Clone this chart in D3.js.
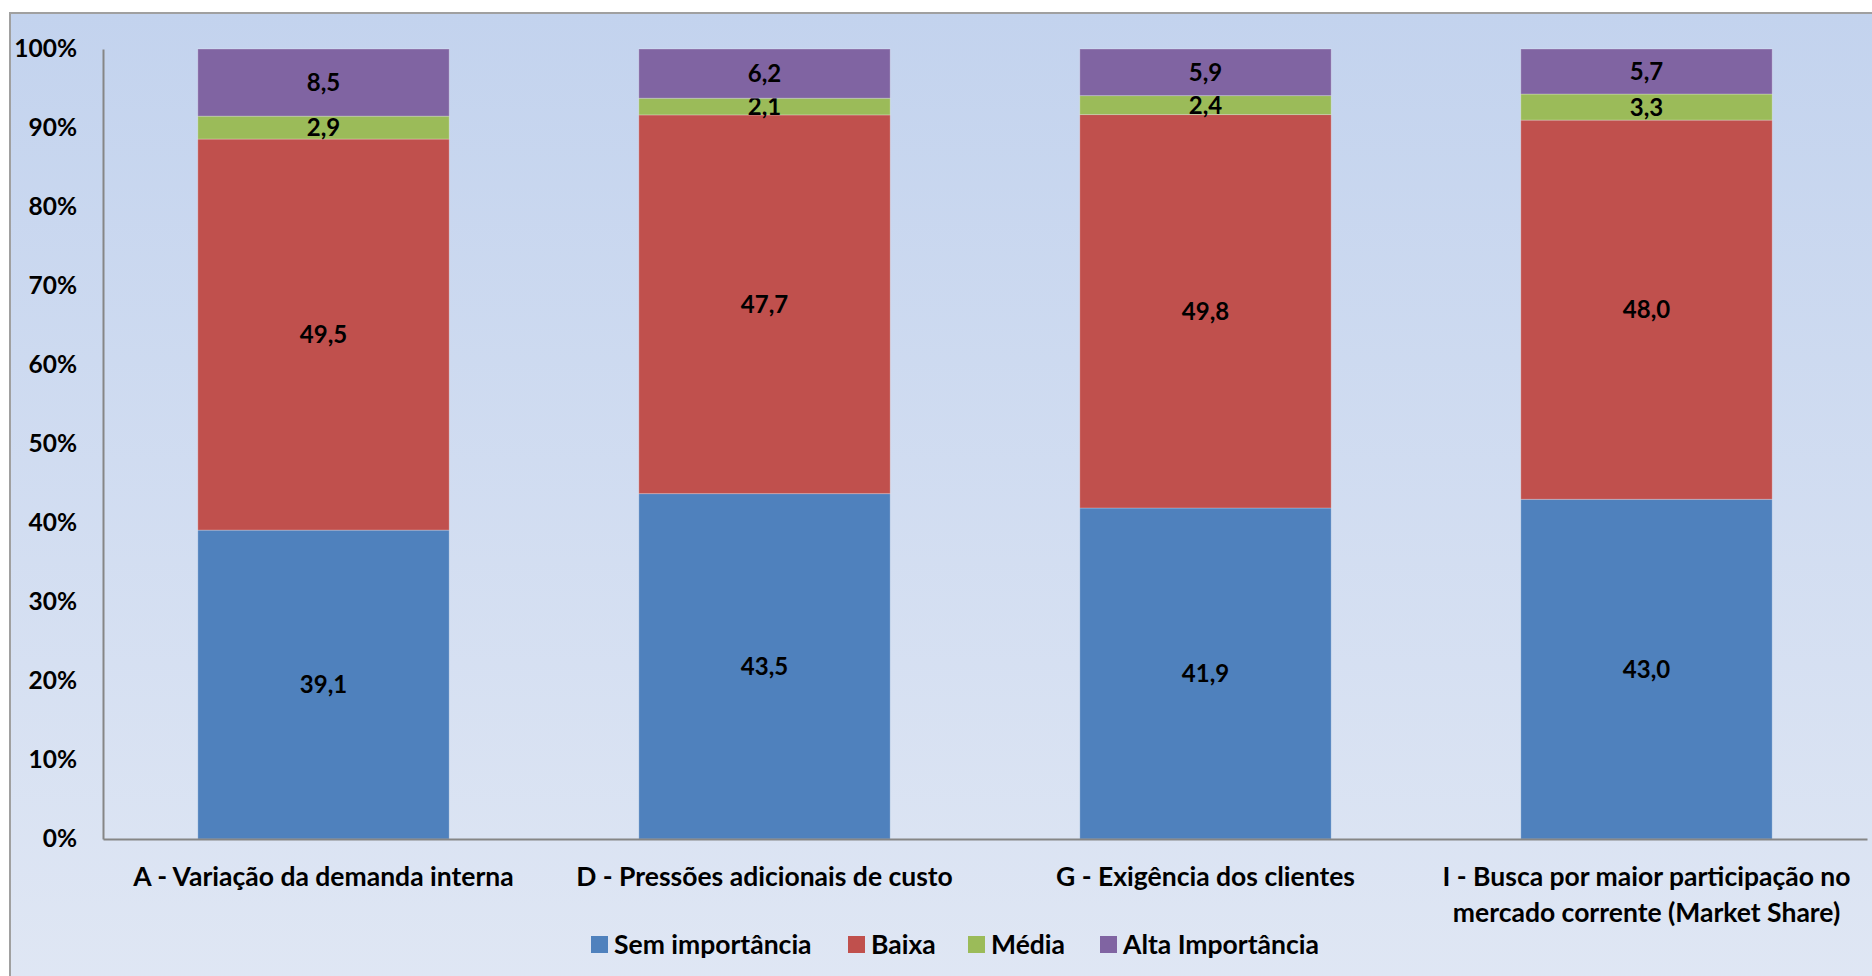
<!DOCTYPE html>
<html>
<head>
<meta charset="utf-8">
<script src="https://cdn.jsdelivr.net/npm/d3@7"></script>
<style>
  body { margin: 0; background: #fff; }
  svg { display: block; font-family: Lato, "Open Sans", sans-serif; font-weight: bold; }
</style>
</head>
<body>
<script>
var categories = [
	["A - Variação da demanda interna"],
	["D - Pressões adicionais de custo"],
	["G - Exigência dos clientes"],
	["I - Busca por maior participação no", "mercado corrente (Market Share)"]
];
var series = ["Sem importância", "Baixa", "Média", "Alta Importância"];
var semImportancia = [39.1, 43.5, 41.9, 43.0];
var baixa = [49.5, 47.7, 49.8, 48.0];
var media = [2.9, 2.1, 2.4, 3.3];
var alta = [8.5, 6.2, 5.9, 5.7];
var colors = ["#4f81bd", "#c0504d", "#9bbb59", "#8064a2"];
var yTicks = [0, 10, 20, 30, 40, 50, 60, 70, 80, 90, 100];

var width = 1872;
var height = 976;
var margin = { left: 103, right: 5, top: 49, bottom: 137 };

var svg = d3.select("body").append("svg")
	.attr("width", width)
	.attr("height", height);

var grad = svg.append("defs").append("linearGradient")
	.attr("id", "bg").attr("x1", 0).attr("y1", 0).attr("x2", 0).attr("y2", 1);
grad.append("stop").attr("offset", "0%").attr("stop-color", "#c3d3ee");
grad.append("stop").attr("offset", "100%").attr("stop-color", "#e0e7f4");

svg.append("rect")
	.attr("x", 10).attr("y", 13)
	.attr("width", width + 20).attr("height", height + 20)
	.attr("fill", "url(#bg)")
	.attr("stroke", "#a0a0a0")
	.attr("stroke-width", 2);

// build table for the stack
var table = categories.map(function(c, i) {
	var vals = [semImportancia[i], baixa[i], media[i], alta[i]];
	var total = d3.sum(vals);
	var row = { key: i };
	series.forEach(function(s, j) { row[s] = vals[j] / total * 100; row[s + "_raw"] = vals[j]; });
	return row;
});

var stacked = d3.stack().keys(series)(table);

var x = d3.scaleBand()
	.domain(d3.range(categories.length))
	.range([margin.left, width - margin.right])
	.paddingInner(0.43)
	.paddingOuter(0.215);

var y = d3.scaleLinear()
	.domain([0, 100])
	.range([height - margin.bottom, margin.top]);

var layers = svg.selectAll("g.layer").data(stacked).enter().append("g")
	.attr("class", "layer")
	.attr("fill", function(d, i) { return colors[i]; });

layers.selectAll("rect").data(function(d) { return d; }).enter().append("rect")
	.attr("x", function(d, i) { return x(i); })
	.attr("y", function(d) { return y(d[1]); })
	.attr("width", x.bandwidth())
	.attr("height", function(d) { return y(d[0]) - y(d[1]); })
	.attr("stroke", "rgba(255,255,255,0.25)")
	.attr("stroke-width", 1);

layers.each(function(layer) {
	d3.select(this).selectAll("text").data(layer).enter().append("text")
		.text(function(d) { return d3.format(".1f")(d.data[layer.key + "_raw"]).replace(".", ","); })
		.attr("x", function(d, i) { return x(i) + x.bandwidth() / 2; })
		.attr("y", function(d) { return y((d[0] + d[1]) / 2); })
		.attr("dy", "0.36em")
		.attr("text-anchor", "middle")
		.attr("font-size", "24px")
		.attr("fill", "#000");
});

// y axis
var yAxis = svg.append("g")
	.attr("transform", "translate(" + margin.left + ",0)")
	.call(d3.axisLeft(y).tickValues(yTicks).tickSize(0).tickPadding(26)
		.tickFormat(function(d) { return d + "%"; }));
yAxis.select(".domain").attr("stroke", "#868686").attr("stroke-width", 2);
yAxis.selectAll("text").attr("font-size", "24.5px").attr("fill", "#000")
	.attr("font-family", "Lato, sans-serif").attr("font-weight", "bold");

// x axis
var xAxis = svg.append("g")
	.attr("transform", "translate(0," + y(0) + ")")
	.call(d3.axisBottom(x).tickSize(0).tickFormat(""));
xAxis.select(".domain").attr("stroke", "#868686").attr("stroke-width", 2);

svg.selectAll("text.cat").data(categories).enter().append("text")
	.attr("class", "cat")
	.attr("x", function(d, i) { return x(i) + x.bandwidth() / 2; })
	.attr("y", y(0) + 37)
	.attr("text-anchor", "middle")
	.attr("font-size", "26.5px")
	.attr("fill", "#000")
	.selectAll("tspan").data(function(d) { return d; }).enter().append("tspan")
	.attr("x", function() { return this.parentNode.getAttribute("x"); })
	.attr("dy", function(d, i) { return i === 0 ? "0.36em" : "36px"; })
	.text(function(d) { return d; });

// legend
var legendX = [591, 848, 968, 1100];
var legend = svg.selectAll("g.legend").data(series).enter().append("g")
	.attr("class", "legend")
	.attr("transform", function(d, i) { return "translate(" + legendX[i] + ",944)"; });
legend.append("rect")
	.attr("x", 0).attr("y", -8)
	.attr("width", 17).attr("height", 17)
	.attr("fill", function(d, i) { return colors[i]; });
legend.append("text")
	.attr("x", 23).attr("y", 0).attr("dy", "0.36em")
	.attr("font-size", "26.5px")
	.attr("fill", "#000")
	.text(function(d) { return d; });
</script>
</body>
</html>
